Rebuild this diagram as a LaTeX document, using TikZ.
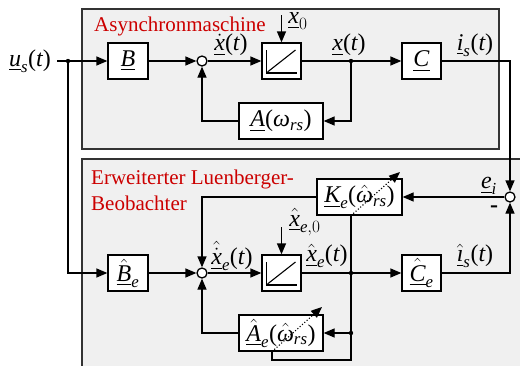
\documentclass[tikz,border=0pt]{standalone}
\usepackage{amsmath}
\usepackage{fontspec}
\setmainfont{Liberation Serif}
\usetikzlibrary{arrows.meta}
\newcommand\vit[1]{\text{\itshape #1}}
\newcommand\tp[1]{\text{(}#1\text{)}}
\newcommand\intsym[1]{%
  \draw[line width=1.1pt] ([shift={(-15,-11)}]#1.center) -- ([shift={(-15,12)}]#1.center) -- ([shift={(15,12)}]#1.center);
  \draw[line width=1.1pt] ([shift={(-14,11)}]#1.center) -- ([shift={(14,-11)}]#1.center);}
\tikzset{
  blk/.style={draw, fill=white, line width=1.3pt, minimum height=36pt, inner sep=2pt, font=\fontsize{24}{28}\selectfont},
  sumc/.style={circle, draw, fill=white, line width=1.3pt, minimum size=10pt, inner sep=0pt},
  con/.style={line width=1.3pt, -{Triangle[length=11pt,width=9pt]}},
  ln/.style={line width=1.3pt},
  dotarr/.style={dotted, line width=1.1pt, -{Triangle[length=11pt,width=9pt]}},
  lbl/.style={font=\fontsize{24}{28}\selectfont, inner sep=0pt},
  ttl/.style={text=red!80!black, font=\fontsize{21}{25}\selectfont, inner sep=0pt},
  grp/.style={draw=black!80, fill=black!6, line width=1.3pt},
}
\begin{document}
\begin{tikzpicture}[x=1pt,y=-1pt]
\useasboundingbox (0,0) rectangle (520,365);
% group boxes
\draw[grp] (82,9) rectangle (499,149);
\draw[grp] (82,159) rectangle (530,375);
\node[ttl, anchor=base west] (t1) at (94,31) {Asynchronmaschine};
\node[ttl, anchor=base west] (t2) at (91,184) {Erweiterter Luenberger-};
\node[ttl, anchor=base west] (t3) at (91,210) {Beobachter};

% top: machine
\node[lbl] (us) at (30,61) {$\underline{\vit{u}}_{\vit{s}}\tp{\vit{t}}$};
\coordinate (br0) at (68,61);
\node[blk, minimum width=40pt] (B) at (128,61) {$\underline{\vit{B}}$};
\node[sumc] (s1) at (202,61) {};
\node[blk, minimum width=39pt] (I1) at (281.5,61) {};
\intsym{I1}
\coordinate (x0s) at (281.5,15);
\node[lbl] (lx0) at (298,21) {$\underline{\vit{x}}_0$};
\node[lbl] (ldx) at (231,45) {$\underline{\dot{\vit{x}}}\tp{\vit{t}}$};
\node[lbl] (lx) at (349,45) {$\underline{\vit{x}}\tp{\vit{t}}$};
\coordinate (br1) at (351,61);
\node[blk, minimum width=39pt] (C) at (421.5,61) {$\underline{\vit{C}}$};
\node[lbl] (lis) at (475,45) {$\underline{\vit{i}}_{\vit{s}}\tp{\vit{t}}$};
\node[blk, minimum width=84pt] (A) at (281,121) {$\underline{\vit{A}}\tp{\vit{ω}_{\vit{rs}}}$};

% bottom: observer
\node[sumc] (e) at (510,197) {};
\node[lbl] (lei) at (489,186) {$\underline{\vit{e}}_{\vit{i}}$};
\node[lbl] (minus) at (494,209) {\textbf{-}};
\node[blk, minimum width=85pt] (K) at (359.5,197) {$\underline{\vit{K}}_{\vit{e}}\tp{\hat{\vit{ω}}_{\vit{rs}}}$};
\node[blk, minimum width=40pt] (Be) at (128,273) {$\underline{\hat{\vit{B}}}_{\vit{e}}$};
\node[sumc] (s2) at (202,273) {};
\node[lbl] (ldxe) at (232,256) {$\underline{\hat{\dot{\vit{x}}}}_{\vit{e}}\tp{\vit{t}}$};
\node[blk, minimum width=39pt] (I2) at (281.5,273) {};
\intsym{I2}
\coordinate (x0e) at (281.5,227);
\node[lbl] (lxe0) at (305,222) {$\underline{\hat{\vit{x}}}_{\vit{e},0}$};
\node[lbl] (lxe) at (327,256) {$\underline{\hat{\vit{x}}}_{\vit{e}}\tp{\vit{t}}$};
\coordinate (br2) at (351,273);
\node[blk, minimum width=39pt] (Ce) at (421.5,273) {$\underline{\hat{\vit{C}}}_{\vit{e}}$};
\node[lbl] (lise) at (475,256) {$\underline{\hat{\vit{ı}}}_{\vit{s}}\tp{\vit{t}}$};
\node[blk, minimum width=84pt] (Ae) at (281,333) {$\underline{\hat{\vit{A}}}_{\vit{e}}\tp{\hat{\vit{ω}}_{\vit{rs}}}$};
\coordinate (br3) at (351,333);
\coordinate (kb) at (K.south -| br2);
\coordinate (lp1) at (351,360);
\coordinate (lp2) at (272,360);
\coordinate (ab) at (lp2 |- Ae.south);
\coordinate (kt) at (400,172);
\coordinate (at) at (322,307);

% connectors top
\draw[con, shorten <=6pt] (us.east |- B.west) -- (B.west);
\draw[con] (B) -- (s1);
\draw[con] (s1) -- (I1);
\draw[con] (x0s) -- (I1.north);
\draw[con] (I1) -- (C);
\draw[con] (br1) |- (A.east);
\draw[con] (A.west) -| (s1.south);
\draw[con] (C.east) -| (e.north);
% connectors bottom
\draw[con] (br0) |- (Be.west);
\draw[con] (Be) -- (s2);
\draw[con] (s2) -- (I2);
\draw[con] (x0e) -- (I2.north);
\draw[con] (I2) -- (Ce);
\draw[con] (Ce.east) -| (e.south);
\draw[con] (e.west) -- (K.east);
\draw[con] (K.west) -| (s2.north);
\draw[ln] (kb) -- (lp1) -- (lp2) -- (ab);
\draw[con] (br3) -- (Ae.east);
\draw[con] (Ae.west) -| (s2.south);
\draw[dotarr] (kb) -- (kt);
\draw[dotarr] (ab) -- (at);
\foreach \p in {br0,br1,br2,br3} \fill (\p) circle (2.2pt);
\end{tikzpicture}
\end{document}
